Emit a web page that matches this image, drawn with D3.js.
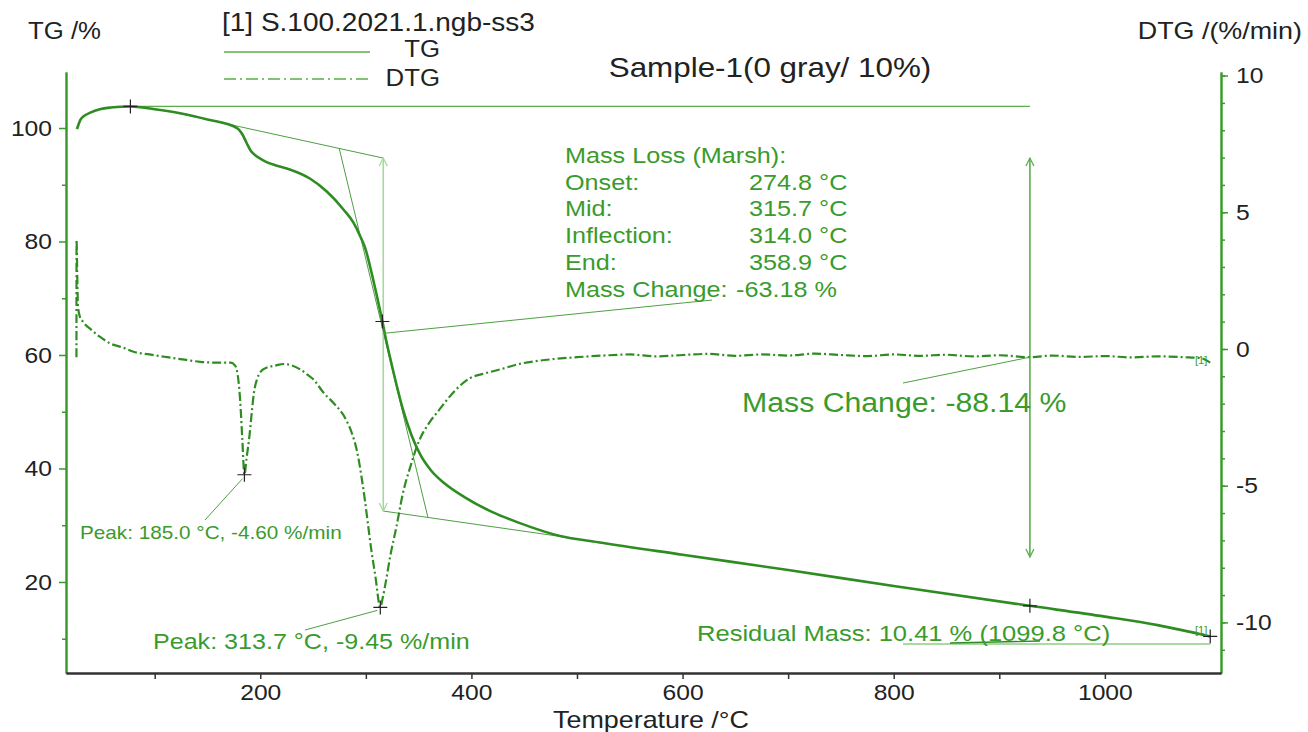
<!DOCTYPE html>
<html>
<head>
<meta charset="utf-8">
<script src="https://cdn.jsdelivr.net/npm/d3@7"></script>
<style>
  body { margin: 0; background: #fff; }
  svg { display: block; font-family: "Liberation Sans", Arial, sans-serif; }
</style>
</head>
<body>
<svg class="tga"></svg>
<script>
// TG curve (mass %) vs temperature
const tgTemp = [26.4, 29.5, 33, 39, 48, 58, 77, 100, 124, 150, 178, 183, 187, 191, 194, 200, 206, 215, 228, 247, 263, 279, 288, 295, 300, 304, 310, 315.7, 319, 323, 329, 335, 343, 352, 362, 375, 393, 420, 444, 484, 520, 600, 700, 800, 929, 1000, 1050, 1099.8];
const tgMass = [99.8, 101.4, 102.1, 102.7, 103.3, 103.6, 103.8, 103.3, 102.6, 101.5, 100.0, 98.9, 97.4, 96.0, 95.4, 94.6, 94.0, 93.4, 92.7, 91.1, 88.8, 85.6, 83.4, 80.8, 78.5, 75.6, 70.8, 65.9, 62.8, 59.5, 54.8, 50.5, 46.0, 42.3, 39.6, 37.3, 35.0, 32.3, 30.5, 28.1, 27.0, 24.8, 22.1, 19.3, 15.8, 13.9, 12.4, 10.41];

// DTG curve (%/min) vs temperature
const dtgTemp = [25.9, 26.0, 26.6, 27.3, 29, 32, 40, 48, 58, 70, 80, 95, 112, 130, 143, 160, 172, 176, 178, 181, 183, 185, 187, 190, 192, 194, 197, 200, 205, 215, 222, 230, 238, 245, 250, 260, 270, 280, 287, 292, 296, 299, 302, 305, 309, 313.7, 316, 319, 323, 329, 335, 343, 350, 360, 370, 376, 385, 399, 412, 427, 445, 460, 475, 500, 525, 550, 575, 600, 625, 650, 675, 700, 725, 750, 775, 800, 825, 850, 875, 900, 929, 950, 975, 1000, 1025, 1050, 1075, 1090, 1099.8];
const dtgRate = [-0.3, 4.0, 2.8, 1.6, 1.2, 1.0, 0.7, 0.45, 0.2, 0.05, -0.1, -0.2, -0.3, -0.4, -0.47, -0.5, -0.5, -0.6, -0.8, -1.9, -3.3, -4.6, -4.0, -3.1, -2.3, -1.6, -1.1, -0.85, -0.7, -0.6, -0.55, -0.6, -0.75, -0.95, -1.1, -1.6, -2.0, -2.5, -3.1, -3.8, -4.7, -5.5, -6.4, -7.3, -8.3, -9.45, -9.1, -8.5, -7.6, -6.5, -5.3, -4.2, -3.4, -2.7, -2.2, -1.9, -1.5, -1.06, -0.9, -0.75, -0.55, -0.45, -0.38, -0.3, -0.24, -0.2, -0.27, -0.22, -0.18, -0.25, -0.2, -0.24, -0.17, -0.22, -0.26, -0.2, -0.25, -0.21, -0.27, -0.23, -0.3, -0.24, -0.29, -0.26, -0.31, -0.27, -0.3, -0.33, -0.5];

const xMajor = [200, 400, 600, 800, 1000];
const xMinor = [100, 300, 500, 700, 900];
const tgMajor = [20, 40, 60, 80, 100];
const tgMinor = [10, 30, 50, 70, 90];
const dtgMajor = [-10, -5, 0, 5, 10];
const dtgMinor = d3.range(-11, 11);

const green = '#3a9b2c';
const lineGreen = '#2f8c22';

const svgWidth = 1308, svgHeight = 732;
const plot = {left: 66, right: 1221, top: 72, bottom: 673};

const svg = d3.select('.tga').attr('width', svgWidth).attr('height', svgHeight);

const x = d3.scaleLinear().domain([16, 1110]).range([plot.left, plot.right]);
const yTG = d3.scaleLinear().domain([3.96, 109.87]).range([plot.bottom, plot.top]);
const yDTG = d3.scaleLinear().domain([-11.85, 10.13]).range([plot.bottom, plot.top]);

const tgData = tgTemp.map((t, i) => ({t: t, v: tgMass[i]}));
const dtgData = dtgTemp.map((t, i) => ({t: t, v: dtgRate[i]}));

// axes
function styleAxis(g, color) {
    g.select('.domain').attr('stroke', color).attr('stroke-width', 2);
    g.selectAll('.tick line').attr('stroke', color).attr('stroke-width', 1.5);
    g.selectAll('.tick text').attr('fill', '#222').style('font-size', '22px').style('font-family', '"Liberation Sans", Arial, sans-serif');
}
const plain = d => String(d);

svg.append('g')
    .attr('transform', `translate(${plot.left},0)`)
    .call(d3.axisLeft(yTG).tickValues(tgMinor).tickFormat('').tickSize(4).tickSizeOuter(0))
    .call(g => styleAxis(g, green));
svg.append('g')
    .attr('transform', `translate(${plot.left},0)`)
    .call(d3.axisLeft(yTG).tickValues(tgMajor).tickFormat(plain).tickSize(7).tickSizeOuter(0).tickPadding(7))
    .call(g => styleAxis(g, green));

svg.append('g')
    .attr('transform', `translate(${plot.right},0)`)
    .call(d3.axisRight(yDTG).tickValues(dtgMinor).tickFormat('').tickSize(4).tickSizeOuter(0))
    .call(g => styleAxis(g, green));
svg.append('g')
    .attr('transform', `translate(${plot.right},0)`)
    .call(d3.axisRight(yDTG).tickValues(dtgMajor).tickFormat(plain).tickSize(7).tickSizeOuter(0).tickPadding(8))
    .call(g => styleAxis(g, green));

svg.append('g')
    .attr('transform', `translate(0,${plot.bottom})`)
    .call(d3.axisBottom(x).tickValues(xMinor).tickFormat('').tickSize(6).tickSizeOuter(0))
    .call(g => styleAxis(g, '#333'));
svg.append('g')
    .attr('transform', `translate(0,${plot.bottom})`)
    .call(d3.axisBottom(x).tickValues(xMajor).tickFormat(plain).tickSize(6).tickSizeOuter(0).tickPadding(5))
    .call(g => styleAxis(g, '#333'));

// annotation helpers
function seg(t1, v1, t2, v2, scale, color, width) {
    svg.append('line')
        .attr('x1', x(t1)).attr('y1', scale(v1))
        .attr('x2', x(t2)).attr('y2', scale(v2))
        .attr('stroke', color).attr('stroke-width', width || 1);
}
function cross(t, v, scale) {
    svg.append('path')
        .attr('transform', `translate(${x(t)},${scale(v)})`)
        .attr('d', 'M-7,0H7M0,-7V7')
        .attr('stroke', '#222').attr('stroke-width', 1.2);
}
function arrow(t, v1, v2, color) {
    const xp = x(t), ya = yTG(v1), yb = yTG(v2);
    svg.append('line').attr('x1', xp).attr('x2', xp).attr('y1', ya).attr('y2', yb)
        .attr('stroke', color).attr('stroke-width', 1.6);
    svg.append('path').attr('d', `M${xp - 4},${ya + 8}L${xp},${ya}L${xp + 4},${ya + 8}`)
        .attr('fill', 'none').attr('stroke', color).attr('stroke-width', 1.3);
    svg.append('path').attr('d', `M${xp - 4},${yb - 8}L${xp},${yb}L${xp + 4},${yb - 8}`)
        .attr('fill', 'none').attr('stroke', color).attr('stroke-width', 1.3);
}

// construction lines
seg(77, 103.8, 929, 103.8, yTG, '#5aae4a', 1.3);
seg(120, 102.7, 316.5, 94.7, yTG, '#4f9f44', 1);
seg(274.8, 96.4, 358.9, 31.3, yTG, '#4f9f44', 1);
seg(316.5, 32.5, 500, 27.6, yTG, '#4f9f44', 1);
arrow(316.5, 94.7, 32.5, '#a8d8a0');
arrow(929, 94.7, 24.4, '#5aae4a');

// curves
const tgLine = d3.line().x(d => x(d.t)).y(d => yTG(d.v)).curve(d3.curveMonotoneX);
const dtgLine = d3.line().x(d => x(d.t)).y(d => yDTG(d.v)).curve(d3.curveMonotoneX);

svg.append('path')
    .attr('d', dtgLine(dtgData))
    .attr('fill', 'none')
    .attr('stroke', lineGreen)
    .attr('stroke-width', 2.2)
    .attr('stroke-dasharray', '9,3,2,3');

svg.append('path')
    .attr('d', tgLine(tgData))
    .attr('fill', 'none')
    .attr('stroke', lineGreen)
    .attr('stroke-width', 2.6);

// markers and leaders
cross(77, 103.8, yTG);
cross(315.7, 65.9, yTG);
cross(929, 15.8, yTG);
cross(1099.8, 10.41, yTG);
cross(185, -4.6, yDTG);
cross(313.7, -9.45, yDTG);

svg.append('line').attr('x1', x(316)).attr('y1', yTG(63.8)).attr('x2', 712).attr('y2', 300)
    .attr('stroke', '#4f9f44').attr('stroke-width', 1);
svg.append('line').attr('x1', x(185) - 2).attr('y1', yDTG(-4.6) + 4).attr('x2', 205).attr('y2', 520)
    .attr('stroke', '#4f9f44').attr('stroke-width', 1);
svg.append('line').attr('x1', x(313.7) - 3).attr('y1', yDTG(-9.45) + 3).attr('x2', 305).attr('y2', 630)
    .attr('stroke', '#4f9f44').attr('stroke-width', 1);
svg.append('line').attr('x1', 903).attr('y1', 383).attr('x2', x(929)).attr('y2', yDTG(-0.3))
    .attr('stroke', '#4f9f44').attr('stroke-width', 1);
svg.append('line').attr('x1', 903).attr('y1', 644).attr('x2', x(1099.8)).attr('y2', 644)
    .attr('stroke', '#8fcc86').attr('stroke-width', 1.5);
svg.append('line').attr('x1', 950).attr('y1', 643).attr('x2', 1040).attr('y2', 641)
    .attr('stroke', lineGreen).attr('stroke-width', 1.3);

// texts
function label(tx, ty, str, size, color, anchor) {
    return svg.append('text')
        .attr('x', tx).attr('y', ty)
        .attr('text-anchor', anchor || 'start')
        .style('font-size', size + 'px')
        .attr('fill', color)
        .text(str);
}

label(28, 39, 'TG /%', 23, '#222');
label(1302, 39, 'DTG /(%/min)', 24, '#222', 'end');
label(222, 31, '[1] S.100.2021.1.ngb-ss3', 25, '#222');

svg.append('line').attr('x1', 224).attr('x2', 370).attr('y1', 52).attr('y2', 52)
    .attr('stroke', '#5aae4a').attr('stroke-width', 1.5);
svg.append('line').attr('x1', 224).attr('x2', 370).attr('y1', 79).attr('y2', 79)
    .attr('stroke', '#5aae4a').attr('stroke-width', 1.5).attr('stroke-dasharray', '12,4,2,4');
label(440, 57, 'TG', 23, '#222', 'end');
label(440, 86, 'DTG', 23, '#222', 'end');

label(770, 77, 'Sample-1(0 gray/ 10%)', 28, '#222', 'middle');

const lossKeys = ['Mass Loss (Marsh):', 'Onset:', 'Mid:', 'Inflection:', 'End:', 'Mass Change:'];
const lossVals = ['', '274.8 \u00B0C', '315.7 \u00B0C', '314.0 \u00B0C', '358.9 \u00B0C', '-63.18 %'];
lossKeys.forEach((k, i) => {
    label(565, 163 + i * 26.7, k, 22.5, green);
    if (lossVals[i]) label(i === 5 ? 736 : 749, 163 + i * 26.7, lossVals[i], 22.5, green);
});

label(742, 412, 'Mass Change: -88.14 %', 27, green);
label(80, 539, 'Peak: 185.0 \u00B0C, -4.60 %/min', 18.5, green);
label(153, 649, 'Peak: 313.7 \u00B0C, -9.45 %/min', 22.4, green);
label(697, 641, 'Residual Mass: 10.41 % (1099.8 \u00B0C)', 22.8, green);
label(1195, 364, '[1]', 10, green);
label(1195, 634, '[1]', 10, green);
label(651, 728, 'Temperature /\u00B0C', 24, '#222', 'middle');

// the source picture is stretched horizontally, widen every text a bit
svg.selectAll('text').each(function () {
    const len = this.getComputedTextLength();
    if (len > 0) d3.select(this).attr('textLength', len * 1.12).attr('lengthAdjust', 'spacingAndGlyphs');
});
</script>
</body>
</html>
